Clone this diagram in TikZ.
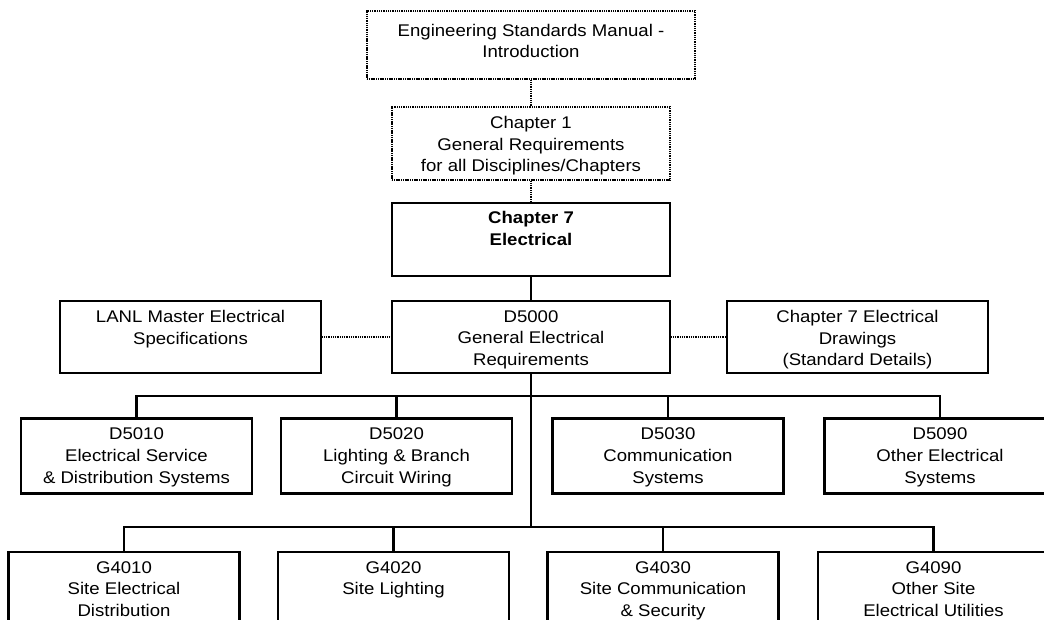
\documentclass[tikz,border=0pt]{standalone}
\usepackage{fontspec}
\setmainfont{Liberation Sans}[FakeStretch=1.1]
\newcommand\bx[4]{\begin{minipage}[c][#2pt][t]{#1pt}\centering\vspace*{#3pt}#4\end{minipage}}
\begin{document}
\begin{tikzpicture}[x=1pt,y=-1pt,
  box/.style={draw, line width=2.2pt, inner sep=0pt, font=\fontsize{16.9}{21.6}\selectfont},
  dbox/.style={box, dash pattern=on 1.1pt off 0.7pt},
  link/.style={line width=2.2pt},
  dlink/.style={link, dash pattern=on 1.1pt off 0.7pt}]
\useasboundingbox (0,0) rectangle (1044,619);
\clip (0,0) rectangle (1044,619);

\node[dbox] (esm) at (531,45) {\bx{328}{68}{13}{Engineering Standards Manual -\\Introduction}};
\node[dbox] (ch1) at (531,143.5) {\bx{278}{73}{9.5}{Chapter 1\\General Requirements\\for all Disciplines/Chapters}};
\node[box] (ch7) at (531,239.5) {\bx{278}{73}{8.5}{\bfseries Chapter 7\\Electrical}};
\node[box] (lanl) at (190.5,337) {\bx{261}{72}{9.5}{LANL Master Electrical\\Specifications}};
\node[box] (d5000) at (531,337) {\bx{278}{72}{9.5}{D5000\\General Electrical\\Requirements}};
\node[box] (drw) at (857.5,337) {\bx{261}{72}{9.5}{Chapter 7 Electrical\\Drawings\\(Standard Details)}};

\node[box] (d5010) at (136.5,456) {\bx{231}{75}{9.5}{D5010\\Electrical Service\\\& Distribution Systems}};
\node[box] (d5020) at (396.5,456) {\bx{231}{75}{9.5}{D5020\\Lighting \& Branch\\Circuit Wiring}};
\node[box] (d5030) at (668,456) {\bx{231}{75}{9.5}{D5030\\Communication\\Systems}};
\node[box] (d5090) at (940,456) {\bx{231}{75}{9.5}{D5090\\Other Electrical\\Systems}};

\node[box] (g4010) at (124,592) {\bx{231}{80}{9.5}{G4010\\Site Electrical\\Distribution}};
\node[box] (g4020) at (393.5,592) {\bx{231}{80}{9.5}{G4020\\Site Lighting}};
\node[box] (g4030) at (663,592) {\bx{231}{80}{9.5}{G4030\\Site Communication\\\& Security}};
\node[box] (g4090) at (933.5,592) {\bx{231}{80}{9.5}{G4090\\Other Site\\Electrical Utilities}};

\coordinate (db) at (531,396);
\coordinate (gb) at (531,527);

\draw[dlink] (esm) -- (ch1);
\draw[dlink] (ch1) -- (ch7);
\draw[link] (ch7) -- (d5000);
\draw[dlink] (lanl) -- (d5000);
\draw[dlink] (d5000) -- (drw);
\draw[link] (d5000.south) -- (gb);
\draw[link] (d5010.north) |- (db) -| (d5090.north);
\draw[link] (d5020.north) -- (d5020.north |- db);
\draw[link] (d5030.north) -- (d5030.north |- db);
\draw[link] (g4010.north) |- (gb) -| (g4090.north);
\draw[link] (g4020.north) -- (g4020.north |- gb);
\draw[link] (g4030.north) -- (g4030.north |- gb);
\end{tikzpicture}
\end{document}
